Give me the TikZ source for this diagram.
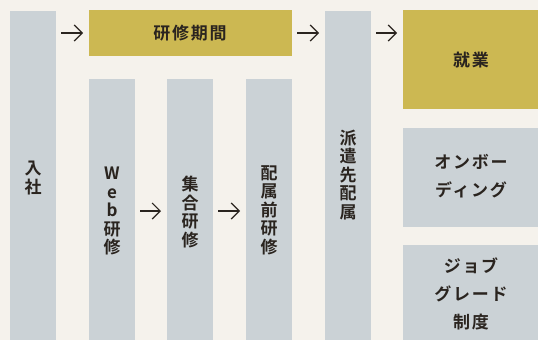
\documentclass[tikz,border=0pt]{standalone}
\usepackage{fontspec}
\setmainfont{Noto Sans CJK JP}[BoldFont={* Bold}]
\newfontfamily\jpsp{Noto Sans CJK JP}[BoldFont={* Bold},LetterSpace=10]
\usetikzlibrary{arrows.meta}
\definecolor{bg}{HTML}{F5F2EC}
\definecolor{gr}{HTML}{CBD2D6}
\definecolor{gd}{HTML}{CCB852}
\definecolor{tx}{HTML}{2A241F}
\begin{document}
\begin{tikzpicture}[x=1pt,y=-1pt,
  col/.style={fill=gr,inner sep=0,outer sep=0,anchor=north west},
  gold/.style={fill=gd,inner sep=0,outer sep=0,anchor=north west},
  vtxt/.style={inner sep=0,align=center,text=tx,font=\bfseries\fontsize{17}{18.5}\selectfont},
  htxt/.style={inner sep=0,align=center,text=tx,font=\jpsp\bfseries\fontsize{17}{28}\selectfont},
  arr/.style={draw=tx,line width=1.2pt,-{Straight Barb[length=8pt,width=16pt,line width=1.2pt]},shorten <=5pt,shorten >=6pt}]
\fill[bg] (0,0) rectangle (538,340);
\useasboundingbox (0,0) rectangle (538,340);
% columns and boxes
\node[col,minimum width=46pt,minimum height=329pt] (nyusha) at (10,11) {};
\node[gold,minimum width=203pt,minimum height=46pt] (kenshu) at (89,10) {};
\node[col,minimum width=46pt,minimum height=261pt] (web) at (89,79) {};
\node[col,minimum width=46pt,minimum height=261pt] (shugo) at (167,79) {};
\node[col,minimum width=46pt,minimum height=261pt] (haizoku) at (246,79) {};
\node[col,minimum width=46pt,minimum height=329pt] (haken) at (325,11) {};
\node[gold,minimum width=135pt,minimum height=99pt] (shugyo) at (403,10) {};
\node[col,minimum width=135pt,minimum height=99pt] (onb) at (403,128) {};
\node[col,minimum width=135pt,minimum height=95pt] (job) at (403,245) {};
% texts
\node[vtxt] (t1) at (33,178) {入\\社};
\node[htxt] (t2) at (190,33) {研修期間};
\node[vtxt] (t3) at (112,211) {W\\e\\b\\研\\修};
\node[vtxt] (t4) at (190,212) {集\\合\\研\\修};
\node[vtxt] (t5) at (269,210) {配\\属\\前\\研\\修};
\node[vtxt] (t6) at (348,175) {派\\遣\\先\\配\\属};
\node[htxt] (t7) at (471,60) {就業};
\node[htxt] (t8) at (471,176) {オンボー\\ディング};
\node[htxt] (t9) at (471,294) {ジョブ\\グレード\\制度};
% arrows
\coordinate (low) at (0,211);
\draw[arr] (nyusha.east |- kenshu.west) -- (kenshu.west);
\draw[arr] (kenshu.east) -- (haken.west |- kenshu.east);
\draw[arr] (haken.east |- kenshu.east) -- (shugyo.west |- kenshu.east);
\draw[arr] (web.east |- low) -- (shugo.west |- low);
\draw[arr] (shugo.east |- low) -- (haizoku.west |- low);
\end{tikzpicture}
\end{document}
